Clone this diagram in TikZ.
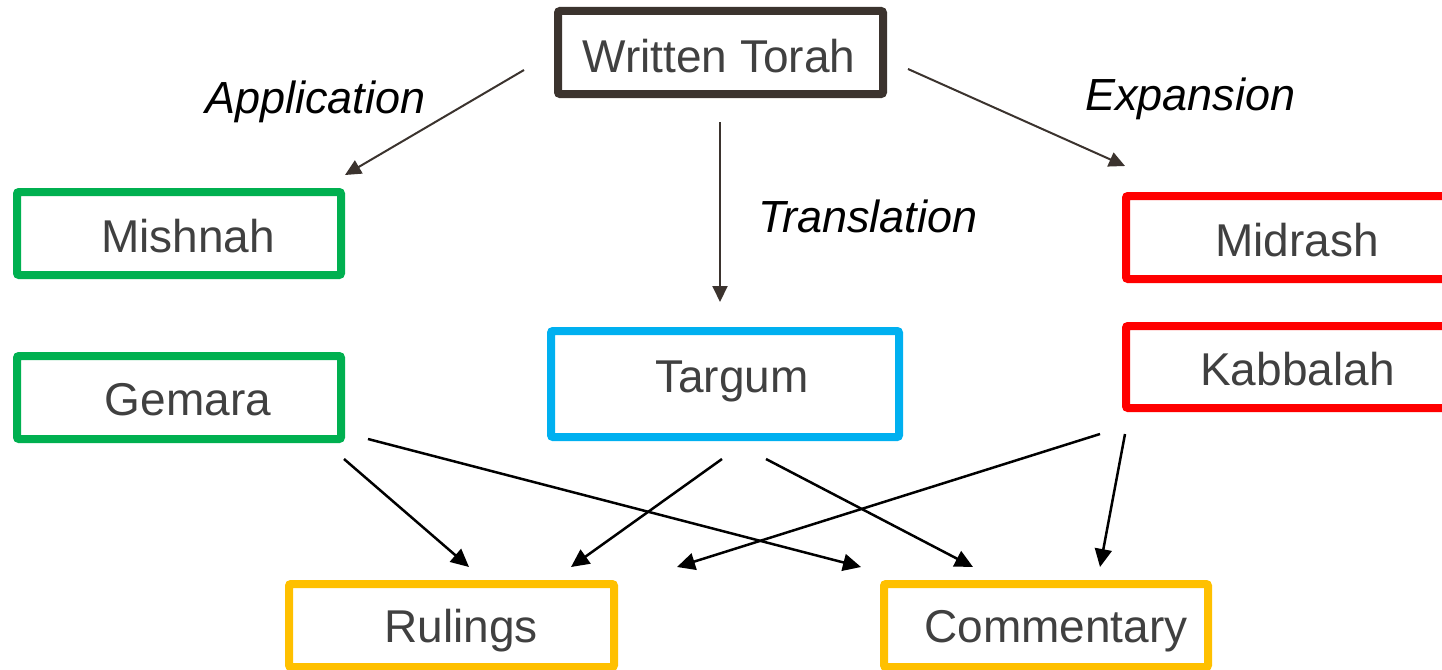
\documentclass[tikz,border=0pt]{standalone}
\usepackage{fontspec}
\setmainfont{Liberation Sans}
\usetikzlibrary{arrows.meta}
\definecolor{torahc}{HTML}{3B332E}
\definecolor{txtc}{HTML}{404040}
\definecolor{greenc}{HTML}{00B050}
\definecolor{bluec}{HTML}{00B0F0}
\definecolor{redc}{HTML}{FF0000}
\definecolor{yellowc}{HTML}{FFC000}
\tikzset{
  box/.style={draw=#1, line width=8pt, rounded corners=2pt, inner sep=0pt, outer sep=0pt, minimum width=324pt, minimum height=83pt},
  lbl/.style={anchor=base, inner sep=0pt, text=txtc, font=\fontsize{46}{50}\selectfont},
  ital/.style={anchor=base west, inner sep=0pt, text=black, font=\fontsize{45}{50}\selectfont\itshape},
  toparrow/.style={draw=torahc, line width=2pt, -{Triangle[length=16pt,width=15pt]}},
  botarrow/.style={draw=black, line width=2.5pt, -{Triangle[length=18pt,width=17pt]}}
}
\begin{document}
\begin{tikzpicture}[x=1pt,y=-1pt]
\useasboundingbox (0,0) rectangle (1442,669);
\clip (0,0) rectangle (1442,669);
% boxes
\node[box=torahc, minimum width=325pt] (torah) at (720.5,52.5) {};
\node[box=greenc] (mishnah) at (179,233.5) {};
\node[box=greenc] (gemara) at (179,397.5) {};
\node[box=bluec, minimum width=348pt, minimum height=106pt] (targum) at (725,384) {};
\node[box=redc, minimum width=334pt] (midrash) at (1293,237.5) {};
\node[box=redc, minimum width=334pt, minimum height=82pt] (kabbalah) at (1293,367) {};
\node[box=yellowc, minimum width=325pt] (rulings) at (451.5,625.5) {};
\node[box=yellowc] (commentary) at (1046,625.5) {};
% texts
\node[lbl] (ttorah) at (719,72) {Written Torah};
\node[lbl] (tmishnah) at (188,252) {Mishnah};
\node[lbl] (tgemara) at (188,415) {Gemara};
\node[lbl] (ttargum) at (732,392) {Targum};
\node[lbl] (tmidrash) at (1297,256) {Midrash};
\node[lbl] (tkabbalah) at (1297.5,385) {Kabbalah};
\node[lbl] (trulings) at (461,642) {Rulings};
\node[lbl] (tcommentary) at (1056,642) {Commentary};
% edge labels
\node[ital] (lapp) at (205,113) {Application};
\node[ital] (lexp) at (1085,110) {Expansion};
\node[ital] (ltra) at (758,232) {Translation};
% connector ends
\coordinate (appS) at (524,70);
\coordinate (appE) at (345,175);
\coordinate (expS) at (908,69);
\coordinate (expE) at (1125,166);
\coordinate (traS) at (720,122);
\coordinate (traE) at (720,302);
\coordinate (gemS1) at (344,459);
\coordinate (gemE1) at (469,567);
\coordinate (gemS2) at (368,439);
\coordinate (gemE2) at (861,567);
\coordinate (tarS1) at (722,459);
\coordinate (tarE1) at (571,567);
\coordinate (tarS2) at (766,459);
\coordinate (tarE2) at (973,567);
\coordinate (kabS1) at (1100,434);
\coordinate (kabE1) at (677,567);
\coordinate (kabS2) at (1125,434);
\coordinate (kabE2) at (1100,567);
% connectors
\draw[toparrow] (appS) -- (appE);
\draw[toparrow] (expS) -- (expE);
\draw[toparrow] (traS) -- (traE);
\draw[botarrow] (gemS1) -- (gemE1);
\draw[botarrow] (gemS2) -- (gemE2);
\draw[botarrow] (tarS1) -- (tarE1);
\draw[botarrow] (tarS2) -- (tarE2);
\draw[botarrow] (kabS1) -- (kabE1);
\draw[botarrow] (kabS2) -- (kabE2);
\end{tikzpicture}
\end{document}
